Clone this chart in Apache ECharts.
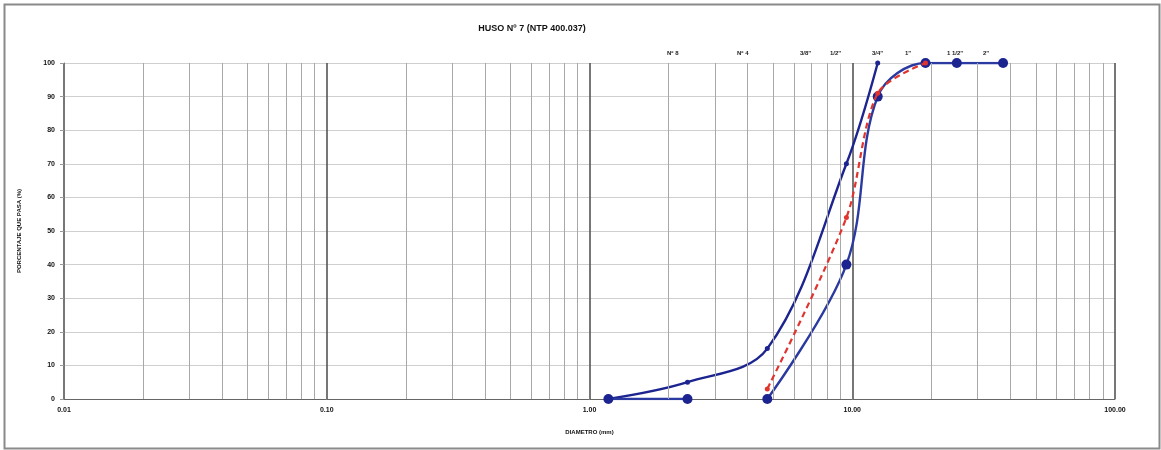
<!DOCTYPE html>
<html>
<head>
<meta charset="utf-8">
<script src="https://cdn.jsdelivr.net/npm/echarts@6/dist/echarts.min.js"></script>
<style>
html,body{margin:0;padding:0;background:#fff;}
#chart{width:1161px;height:450px;}
</style>
</head>
<body>
<div id="chart"></div>
<script>
// ---- data ----
const titleText = 'HUSO Nº 7 (NTP 400.037)';
const xAxisName = 'DIAMETRO (mm)';
const yAxisName = 'PORCENTAJE QUE PASA (%)';
const sieveLabels = ['Nº 8', 'Nº 4', '3/8"', '1/2"', '3/4"', '1"', '1 1/2"', '2"'];
// upper limit curve [diameter mm, % passing]
const upperLimit = [[1.18, 0], [2.36, 5], [4.75, 15], [9.5, 70], [12.5, 100]];
// lower limit pieces
const lowerLimitA = [[1.18, 0], [2.36, 0]];
const lowerLimitB = [[4.75, 0], [9.5, 40], [12.5, 90], [19, 100], [25, 100], [37.5, 100]];
// sample gradation (red dashed)
const sample = [[4.75, 3], [9.5, 54], [12.5, 91], [19, 100]];
// minor vertical grid values
const minorGrid = [];
[0.01, 0.1, 1, 10].forEach(d => { for (let k = 2; k <= 9; k++) minorGrid.push(+(d * k).toPrecision(3)); });
const yTicks = [0, 10, 20, 30, 40, 50, 60, 70, 80, 90, 100];

const FONT = 'Liberation Sans';
const navy = '#1c2490';
const chart = echarts.init(document.getElementById('chart'));

// sieve label pixel positions (annotation text placed as in the reference)
const sieveX = [667, 737, 800, 830, 872, 905, 947, 983];

const option = {
  animation: false,
  backgroundColor: '#fff',
  title: {
    text: titleText, left: 527, top: 19, textAlign: 'center',
    textStyle: {fontFamily: FONT, fontSize: 9, fontWeight: 'bold', color: '#111'}
  },
  grid: {left: 64, right: 46, top: 63, bottom: 51, containLabel: false},
  xAxis: {
    type: 'log', logBase: 10, min: 0.01, max: 100, splitNumber: 4,
    name: xAxisName, nameLocation: 'middle', nameGap: 30,
    nameTextStyle: {fontFamily: FONT, fontSize: 6, fontWeight: 'bold', color: '#111'},
    axisLine: {show: true, lineStyle: {color: '#666', width: 1}},
    axisTick: {show: false},
    axisLabel: {fontFamily: FONT, fontSize: 7, fontWeight: 'bold', color: '#111', margin: 8,
      formatter: v => Number(v).toFixed(2)},
    splitLine: {show: true, lineStyle: {color: '#555', width: 1.6}},
    minorTick: {show: false}, minorSplitLine: {show: false}
  },
  yAxis: {
    type: 'value', min: 0, max: 100, interval: 10,
    name: yAxisName, nameLocation: 'middle', nameGap: 42, nameRotate: 90,
    nameTextStyle: {fontFamily: FONT, fontSize: 6, fontWeight: 'bold', color: '#111'},
    axisLine: {show: true, lineStyle: {color: '#777'}},
    axisTick: {show: true, length: 4, lineStyle: {color: '#999'}},
    axisLabel: {fontFamily: FONT, fontSize: 7, fontWeight: 'bold', color: '#111', margin: 9,
      formatter: v => yTicks.includes(v) ? String(v) : ''},
    splitLine: {show: true, lineStyle: {color: '#cfcfcf', width: 1}}
  },
  graphic: [
    {type: 'rect', left: 2, top: 2, shape: {width: 1155, height: 444},
     style: {fill: 'none', stroke: '#8a8a8a', lineWidth: 2}, silent: true},
  ].concat(sieveLabels.map((t, i) => ({
    type: 'text', left: sieveX[i], top: 50,
    style: {text: t, fontFamily: FONT, fontSize: 6, fontWeight: 'bold', fill: '#222', textAlign: 'center'}
  }))),
  series: [
    {
      type: 'line', data: [], silent: true, z: 1,
      markLine: {
        silent: true, symbol: 'none', label: {show: false},
        lineStyle: {color: '#a8a8a8', width: 1, type: 'solid'},
        data: minorGrid.map(v => ({xAxis: v}))
      }
    },
    {
      name: 'Límite superior', type: 'line', data: upperLimit, smooth: 0.35, z: 4,
      symbol: 'circle', symbolSize: 5,
      lineStyle: {color: navy, width: 2.4}, itemStyle: {color: navy}
    },
    {
      name: 'Límite inferior A', type: 'line', data: lowerLimitA, z: 4,
      symbol: 'circle', symbolSize: 10,
      lineStyle: {color: '#2b3aa0', width: 2.4}, itemStyle: {color: navy}
    },
    {
      name: 'Límite inferior', type: 'line', data: lowerLimitB, smooth: 0.35, z: 4,
      symbol: 'circle', symbolSize: 10,
      lineStyle: {color: '#2b3aa0', width: 2.4}, itemStyle: {color: navy}
    },
    {
      name: 'Muestra', type: 'line', data: sample, smooth: 0.3, z: 5,
      symbol: 'circle', symbolSize: 5,
      lineStyle: {color: '#e0342f', width: 2.2, type: [6, 4]}, itemStyle: {color: '#e0342f'}
    }
  ]
};
chart.setOption(option);
</script>
</body>
</html>
